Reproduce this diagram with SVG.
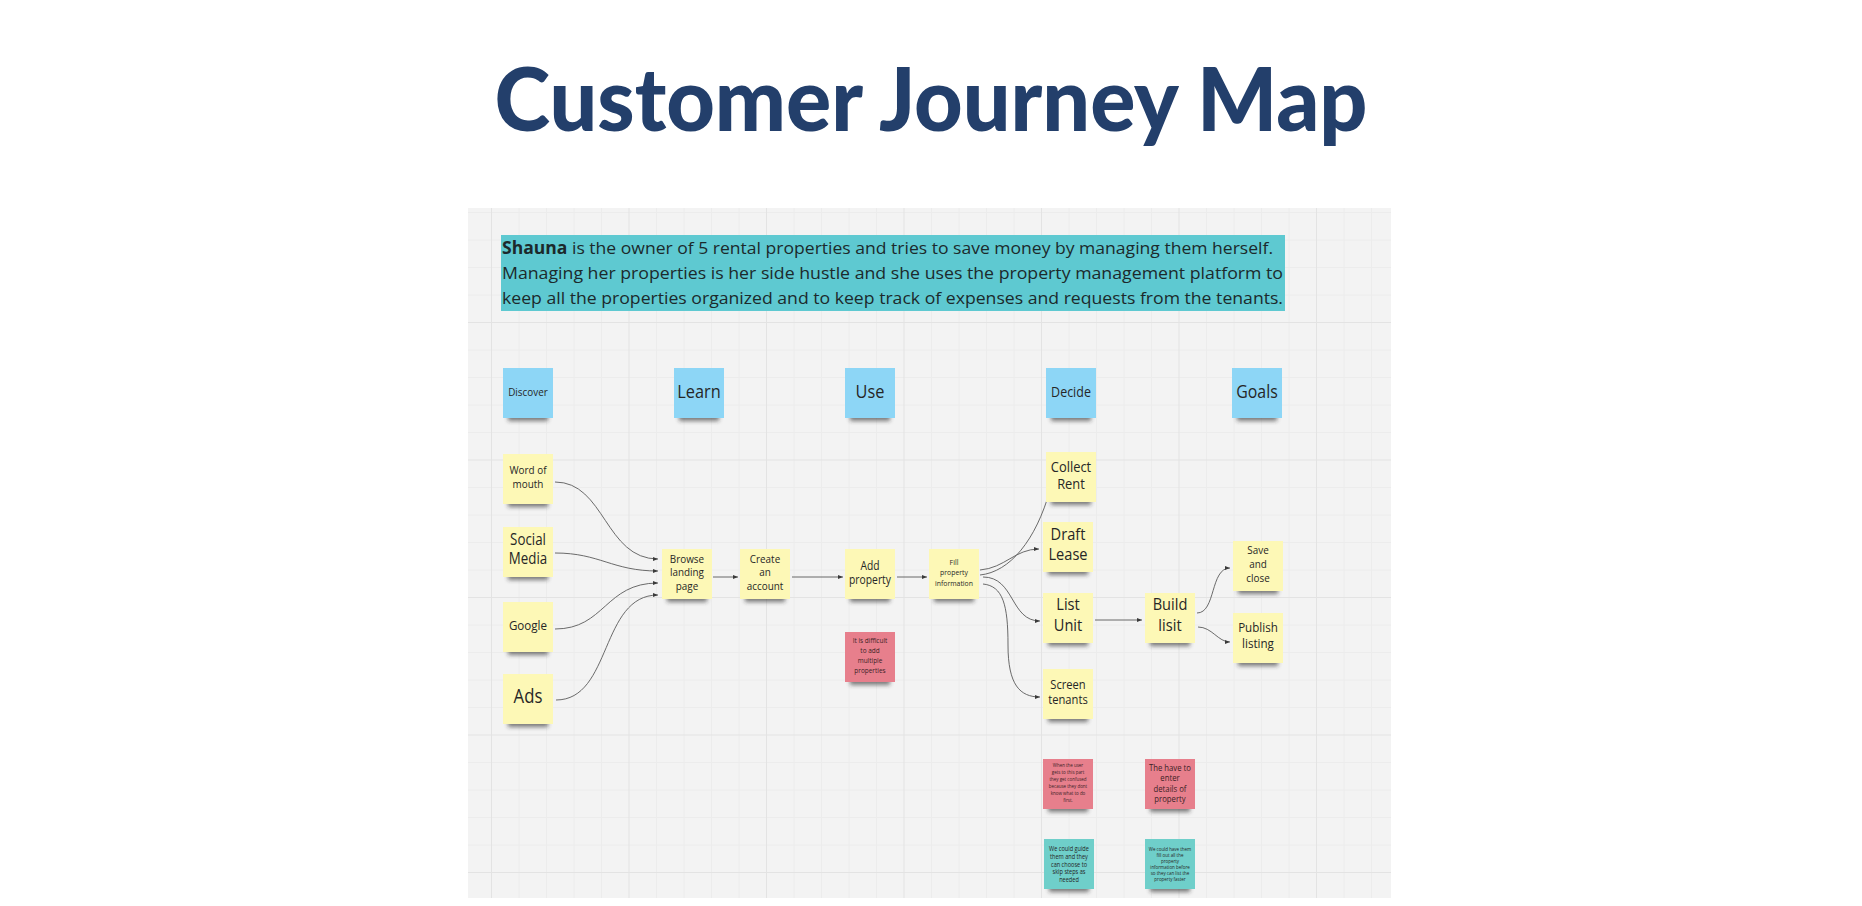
<svg xmlns="http://www.w3.org/2000/svg" width="1862" height="906" viewBox="0 0 1862 906">
<style>
.bg{fill:#ffffff}
.board{fill:#f3f3f3}
.minor{stroke:#ececec;stroke-width:1;fill:none}
.major{stroke:#e3e3e3;stroke-width:1;fill:none}
.title{font-family:Lato,"Liberation Sans",sans-serif;font-weight:900;font-size:88px;fill:#233f6b}
.para{font-family:"Open Sans","Noto Sans",sans-serif;font-size:17px;fill:#1c2a2c}
.n{font-family:"Open Sans","Noto Sans",sans-serif;fill:#262626;text-anchor:middle}
.nr{font-family:"Open Sans","Noto Sans",sans-serif;fill:#3b2226;text-anchor:middle}
.box{fill:#5ec9d1}
.blue{fill:#8dd6f6}
.yellow{fill:#fdf8b6}
.red{fill:#e77f8c}
.teal{fill:#6fcfca}
.sh{fill:#2a2a2a;opacity:.6;filter:url(#blur)}
.conn{fill:none;stroke:#5a5a5a;stroke-width:.9;marker-end:url(#arr)}
</style>
<defs>
<filter id="blur" x="-30%" y="-100%" width="160%" height="300%"><feGaussianBlur stdDeviation="2"/></filter>
<marker id="arr" markerUnits="userSpaceOnUse" markerWidth="7" markerHeight="6" refX="5" refY="3" orient="auto"><path d="M0 0.9L5 3L0 5.1z" fill="#3a3a3a"/></marker>
</defs>
<rect class="bg" x="0" y="0" width="1862" height="906"/>
<text class="title" x="931" y="131" text-anchor="middle" textLength="873" lengthAdjust="spacingAndGlyphs">Customer Journey Map</text>
<g id="board">
<rect class="board" x="468" y="208" width="923" height="690"/>
<path class="minor" d="M519 208V898M546.5 208V898M574 208V898M601.5 208V898M656.5 208V898M684 208V898M711.5 208V898M739 208V898M794 208V898M821.5 208V898M849 208V898M876.5 208V898M931.5 208V898M959 208V898M986.5 208V898M1014 208V898M1069 208V898M1096.5 208V898M1124 208V898M1151.5 208V898M1206.5 208V898M1234 208V898M1261.5 208V898M1289 208V898M1344 208V898M1371.5 208V898M468 212.5H1391M468 240H1391M468 267.5H1391M468 295H1391M468 350H1391M468 377.5H1391M468 405H1391M468 432.5H1391M468 487.5H1391M468 515H1391M468 542.5H1391M468 570H1391M468 625H1391M468 652.5H1391M468 680H1391M468 707.5H1391M468 762.5H1391M468 790H1391M468 817.5H1391M468 845H1391"/>
<path class="major" d="M491.5 208V898M629 208V898M766.5 208V898M904 208V898M1041.5 208V898M1179 208V898M1316.5 208V898M468 322.5H1391M468 460H1391M468 597.5H1391M468 735H1391M468 872.5H1391"/>
</g>
<g id="persona">
<rect class="box" x="501" y="235" width="784" height="76"/>
<text class="para" x="502" y="254" textLength="771" lengthAdjust="spacingAndGlyphs"><tspan font-weight="700">Shauna</tspan> is the owner of 5 rental properties and tries to save money by managing them herself.</text>
<text class="para" x="502" y="279" textLength="781" lengthAdjust="spacingAndGlyphs">Managing her properties is her side hustle and she uses the property management platform to</text>
<text class="para" x="502" y="304" textLength="781" lengthAdjust="spacingAndGlyphs">keep all the properties organized and to keep track of expenses and requests from the tenants.</text>
</g>
<g id="connectors">
<path class="conn" d="M555 482C605 482 605 559 658 559"/>
<path class="conn" d="M555 553C600 553 612 571 658 571"/>
<path class="conn" d="M555 629C605 629 605 583 658 583"/>
<path class="conn" d="M556 700C612 700 600 595 658 595"/>
<path class="conn" d="M713 577H738"/>
<path class="conn" d="M792 577H843"/>
<path class="conn" d="M897 577H927"/>
<path class="conn" d="M980 575C1010 572 1036 540 1050 490"/>
<path class="conn" d="M980 570C1005 568 1015 549 1039 549"/>
<path class="conn" d="M983 577C1015 577 1010 621 1040 621"/>
<path class="conn" d="M983 584C1003 586 1008 605 1008 645C1008 685 1020 697 1040 697"/>
<path class="conn" d="M1095 620H1142"/>
<path class="conn" d="M1197 613C1216 613 1210 568 1230 568"/>
<path class="conn" d="M1198 627C1212 627 1218 642 1230 642"/>
</g>
<g id="n-discover"><rect class="sh" x="508" y="410" width="40" height="11"/><rect class="blue" x="503" y="368" width="50" height="50"/><text class="n" font-size="11.5" transform="matrix(.86 0 0 1 73.92 0)"><tspan x="528" y="396">Discover</tspan></text></g>
<g id="n-learn"><rect class="sh" x="679" y="410" width="40" height="11"/><rect class="blue" x="674" y="368" width="50" height="50"/><text class="n" font-size="19" transform="matrix(.86 0 0 1 97.86 0)"><tspan x="699" y="398">Learn</tspan></text></g>
<g id="n-use"><rect class="sh" x="850" y="410" width="40" height="11"/><rect class="blue" x="845" y="368" width="50" height="50"/><text class="n" font-size="19" transform="matrix(.86 0 0 1 121.8 0)"><tspan x="870" y="398">Use</tspan></text></g>
<g id="n-decide"><rect class="sh" x="1051" y="410" width="40" height="11"/><rect class="blue" x="1046" y="368" width="50" height="50"/><text class="n" font-size="14.5" transform="matrix(.86 0 0 1 149.94 0)"><tspan x="1071" y="397">Decide</tspan></text></g>
<g id="n-goals"><rect class="sh" x="1237" y="410" width="40" height="11"/><rect class="blue" x="1232" y="368" width="50" height="50"/><text class="n" font-size="18.5" transform="matrix(.86 0 0 1 175.98 0)"><tspan x="1257" y="398">Goals</tspan></text></g>
<g id="n-word"><rect class="sh" x="508" y="496" width="40" height="11"/><rect class="yellow" x="503" y="454" width="50" height="50"/><text class="n" font-size="11.5" transform="matrix(.86 0 0 1 73.92 0)"><tspan x="528" y="474">Word of</tspan><tspan x="528" y="488">mouth</tspan></text></g>
<g id="n-social"><rect class="sh" x="508" y="569" width="40" height="11"/><rect class="yellow" x="503" y="527" width="50" height="50"/><text class="n" font-size="15.5" transform="matrix(.86 0 0 1 73.92 0)"><tspan x="528" y="545.5">Social</tspan><tspan x="528" y="564">Media</tspan></text></g>
<g id="n-google"><rect class="sh" x="508" y="644" width="40" height="11"/><rect class="yellow" x="503" y="602" width="50" height="50"/><text class="n" font-size="13.5" transform="matrix(.86 0 0 1 73.92 0)"><tspan x="528" y="630.5">Google</tspan></text></g>
<g id="n-ads"><rect class="sh" x="508" y="716" width="40" height="11"/><rect class="yellow" x="503" y="674" width="50" height="50"/><text class="n" font-size="19.5" transform="matrix(.86 0 0 1 73.92 0)"><tspan x="528" y="703">Ads</tspan></text></g>
<g id="n-browse"><rect class="sh" x="667" y="591" width="40" height="11"/><rect class="yellow" x="662" y="549" width="50" height="50"/><text class="n" font-size="11.5" transform="matrix(.86 0 0 1 96.18 0)"><tspan x="687" y="563">Browse</tspan><tspan x="687" y="576.5">landing</tspan><tspan x="687" y="590">page</tspan></text></g>
<g id="n-create"><rect class="sh" x="745" y="591" width="40" height="11"/><rect class="yellow" x="740" y="549" width="50" height="50"/><text class="n" font-size="11.5" transform="matrix(.86 0 0 1 107.1 0)"><tspan x="765" y="563">Create</tspan><tspan x="765" y="576.5">an</tspan><tspan x="765" y="590">account</tspan></text></g>
<g id="n-add"><rect class="sh" x="850" y="591" width="40" height="11"/><rect class="yellow" x="845" y="549" width="50" height="50"/><text class="n" font-size="12" transform="matrix(.86 0 0 1 121.8 0)"><tspan x="870" y="570">Add</tspan><tspan x="870" y="584">property</tspan></text></g>
<g id="n-fill"><rect class="sh" x="934" y="591" width="40" height="11"/><rect class="yellow" x="929" y="549" width="50" height="50"/><text class="n" font-size="8" transform="matrix(.86 0 0 1 133.56 0)"><tspan x="954" y="565">Fill</tspan><tspan x="954" y="575.5">property</tspan><tspan x="954" y="586">information</tspan></text></g>
<g id="n-difficult"><rect class="sh" x="850" y="674" width="40" height="11"/><rect class="red" x="845" y="632" width="50" height="50"/><text class="nr" font-size="7.5" transform="matrix(.86 0 0 1 121.8 0)"><tspan x="870" y="643">It is difficult</tspan><tspan x="870" y="653">to add</tspan><tspan x="870" y="663">multiple</tspan><tspan x="870" y="673.5">properties</tspan></text></g>
<g id="n-collect"><rect class="sh" x="1051" y="494" width="40" height="11"/><rect class="yellow" x="1046" y="452" width="50" height="50"/><text class="n" font-size="15" transform="matrix(.86 0 0 1 149.94 0)"><tspan x="1071" y="472">Collect</tspan><tspan x="1071" y="489.5">Rent</tspan></text></g>
<g id="n-draft"><rect class="sh" x="1048" y="564" width="40" height="11"/><rect class="yellow" x="1043" y="522" width="50" height="50"/><text class="n" font-size="17" transform="matrix(.86 0 0 1 149.52 0)"><tspan x="1068" y="540">Draft</tspan><tspan x="1068" y="560.5">Lease</tspan></text></g>
<g id="n-list"><rect class="sh" x="1048" y="635" width="40" height="11"/><rect class="yellow" x="1043" y="593" width="50" height="50"/><text class="n" font-size="17" transform="matrix(.86 0 0 1 149.52 0)"><tspan x="1068" y="610.5">List</tspan><tspan x="1068" y="631.5">Unit</tspan></text></g>
<g id="n-screen"><rect class="sh" x="1048" y="711" width="40" height="11"/><rect class="yellow" x="1043" y="669" width="50" height="50"/><text class="n" font-size="13" transform="matrix(.86 0 0 1 149.52 0)"><tspan x="1068" y="689.5">Screen</tspan><tspan x="1068" y="704.5">tenants</tspan></text></g>
<g id="n-build"><rect class="sh" x="1150" y="635" width="40" height="11"/><rect class="yellow" x="1145" y="593" width="50" height="50"/><text class="n" font-size="17" transform="matrix(.86 0 0 1 163.8 0)"><tspan x="1170" y="610.5">Build</tspan><tspan x="1170" y="631.5">lisit</tspan></text></g>
<g id="n-save"><rect class="sh" x="1238" y="583" width="40" height="11"/><rect class="yellow" x="1233" y="541" width="50" height="50"/><text class="n" font-size="11.5" transform="matrix(.86 0 0 1 176.12 0)"><tspan x="1258" y="554">Save</tspan><tspan x="1258" y="568">and</tspan><tspan x="1258" y="582">close</tspan></text></g>
<g id="n-publish"><rect class="sh" x="1238" y="655" width="40" height="11"/><rect class="yellow" x="1233" y="613" width="50" height="50"/><text class="n" font-size="13.5" transform="matrix(.86 0 0 1 176.12 0)"><tspan x="1258" y="632.5">Publish</tspan><tspan x="1258" y="648.5">listing</tspan></text></g>
<g id="n-confused"><rect class="sh" x="1048" y="801" width="40" height="11"/><rect class="red" x="1043" y="759" width="50" height="50"/><text class="nr" font-size="5.2" transform="matrix(.86 0 0 1 149.52 0)"><tspan x="1068" y="767.5">When the user</tspan><tspan x="1068" y="774.5">gets to this part</tspan><tspan x="1068" y="781.5">they get confused</tspan><tspan x="1068" y="788.5">because they dont</tspan><tspan x="1068" y="795.5">know what to do</tspan><tspan x="1068" y="802.5">first.</tspan></text></g>
<g id="n-details"><rect class="sh" x="1150" y="801" width="40" height="11"/><rect class="red" x="1145" y="759" width="50" height="50"/><text class="nr" font-size="9" transform="matrix(.86 0 0 1 163.8 0)"><tspan x="1170" y="771">The have to</tspan><tspan x="1170" y="781.5">enter</tspan><tspan x="1170" y="792">details of</tspan><tspan x="1170" y="802.5">property</tspan></text></g>
<g id="n-guide"><rect class="sh" x="1049" y="881" width="40" height="11"/><rect class="teal" x="1044" y="839" width="50" height="50"/><text class="n" font-size="6.5" transform="matrix(.86 0 0 1 149.66 0)"><tspan x="1069" y="851">We could guide</tspan><tspan x="1069" y="859">them and they</tspan><tspan x="1069" y="867">can choose to</tspan><tspan x="1069" y="874.5">skip steps as</tspan><tspan x="1069" y="882">needed</tspan></text></g>
<g id="n-fillout"><rect class="sh" x="1150" y="881" width="40" height="11"/><rect class="teal" x="1145" y="839" width="50" height="50"/><text class="n" font-size="5.2" transform="matrix(.86 0 0 1 163.8 0)"><tspan x="1170" y="851">We could have them</tspan><tspan x="1170" y="857">fill out all the</tspan><tspan x="1170" y="863">property</tspan><tspan x="1170" y="869">information before</tspan><tspan x="1170" y="875">so they can list the</tspan><tspan x="1170" y="881">property faster</tspan></text></g>
</svg>
